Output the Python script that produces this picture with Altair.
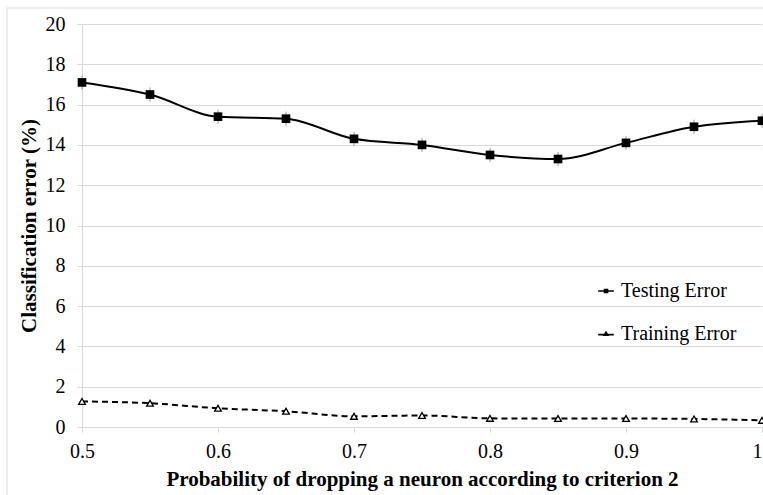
import altair as alt
import pandas as pd

# ---- data ----
prob = [0.5, 0.55, 0.6, 0.65, 0.7, 0.75, 0.8, 0.85, 0.9, 0.95, 1.0]
testing = [17.1, 16.5, 15.4, 15.3, 14.3, 14.0, 13.5, 13.3, 14.1, 14.9, 15.2]
training = [1.27, 1.18, 0.93, 0.78, 0.53, 0.57, 0.43, 0.42, 0.42, 0.40, 0.33]
testing_err = [0.35] * 11
training_err = [0.12] * 11
series_names = ["Testing Error", "Training Error"]

rows = []
for p, t, te in zip(prob, testing, testing_err):
    rows.append({"p": p, "err": t, "lo": t - te, "hi": t + te, "series": series_names[0]})
for p, t, te in zip(prob, training, training_err):
    rows.append({"p": p, "err": t, "lo": t - te, "hi": t + te, "series": series_names[1]})
df = pd.DataFrame(rows)

FONT = "Liberation Serif"
GRID = "#d9d9d9"

xscale = alt.Scale(domain=[0.5, 1.0], nice=False, zero=False)
yscale = alt.Scale(domain=[0, 20], nice=False)

xenc = alt.X("p:Q", scale=xscale,
             axis=alt.Axis(title="Probability of dropping a neuron according to criterion 2",
                           values=[0.5, 0.6, 0.7, 0.8, 0.9, 1.0], format=".1~f",
                           grid=False, domain=False, ticks=True, tickSize=5,
                           labelFlush=False, labelOverlap=False,
                           labelAlign=alt.ExprRef(expr="datum.value >= 1 ? 'right' : 'center'"),
                           labelBound=False,
                           tickColor=GRID, labelPadding=9, titlePadding=7))
yenc = alt.Y("err:Q", scale=yscale,
             axis=alt.Axis(title="Classification error (%)",
                           values=list(range(0, 21, 2)), grid=True, gridColor=GRID,
                           domain=True, domainColor=GRID, tickColor=GRID, tickSize=5,
                           labelFlush=False,
                           labelPadding=12, titlePadding=6))

base = alt.Chart(df)

frame = alt.Chart(pd.DataFrame({"a": [0]})).mark_rect(
    fill=None, stroke=GRID, strokeWidth=1
).encode(x=alt.value(-75), x2=alt.value(720), y=alt.value(-16), y2=alt.value(500))

errbars = base.mark_rule(color="#9a9a9a", strokeWidth=1).encode(
    x=xenc, y=alt.Y("lo:Q", scale=yscale), y2="hi:Q")

test_line = base.transform_filter(alt.datum.series == series_names[0]).mark_line(
    color="black", strokeWidth=2, interpolate="monotone").encode(x=xenc, y=yenc)
train_line = base.transform_filter(alt.datum.series == series_names[1]).mark_line(
    color="black", strokeWidth=2, strokeDash=[6, 4], interpolate="monotone").encode(x=xenc, y=yenc)

test_pts = base.transform_filter(alt.datum.series == series_names[0]).mark_point(
    shape="square", filled=True, color="black", size=75, opacity=1).encode(x=xenc, y=yenc)
train_pts = base.transform_filter(alt.datum.series == series_names[1]).mark_point(
    shape="triangle-up", fill="white", stroke="black", strokeWidth=1.3, size=45,
    opacity=1).encode(x=xenc, y=yenc)

legend_layer = base.transform_filter("false").mark_point(
    stroke="black", strokeWidth=1.6, opacity=1, size=144).encode(
    x=xenc, y=yenc,
    shape=alt.Shape("series:N",
                    scale=alt.Scale(domain=series_names,
                                    range=["M-1.3,0H1.3M-0.25,-0.25H0.25V0.25H-0.25Z",
                                           "M-1.3,0.1H1.3M0,-0.3L0.3,0.2H-0.3Z"]),
                    legend=alt.Legend(title=None, orient="none", legendX=514, legendY=257,
                                      labelFont=FONT, labelFontSize=20, labelColor="black",
                                      rowPadding=23, symbolSize=144, labelOffset=5,
                                      symbolStrokeWidth=1.6)),
    fill=alt.Fill("series:N",
                  scale=alt.Scale(domain=series_names, range=["black", "white"]),
                  legend=None),
)

chart = alt.layer(frame, errbars, test_line, train_line, test_pts, train_pts, legend_layer).properties(
    width=680, height=403,
    padding={"left": 82, "top": 24, "right": 1, "bottom": 68},
    autosize=alt.AutoSizeParams(type="none"),
    background="white",
).configure_view(stroke=None).configure_axis(
    labelFont=FONT, labelFontSize=20, labelColor="black",
    titleFont=FONT, titleFontSize=21, titleFontWeight="bold", titleColor="black",
).configure_legend(symbolType="circle")

chart.save("out.html", embed_options={"renderer": "svg", "actions": False})
